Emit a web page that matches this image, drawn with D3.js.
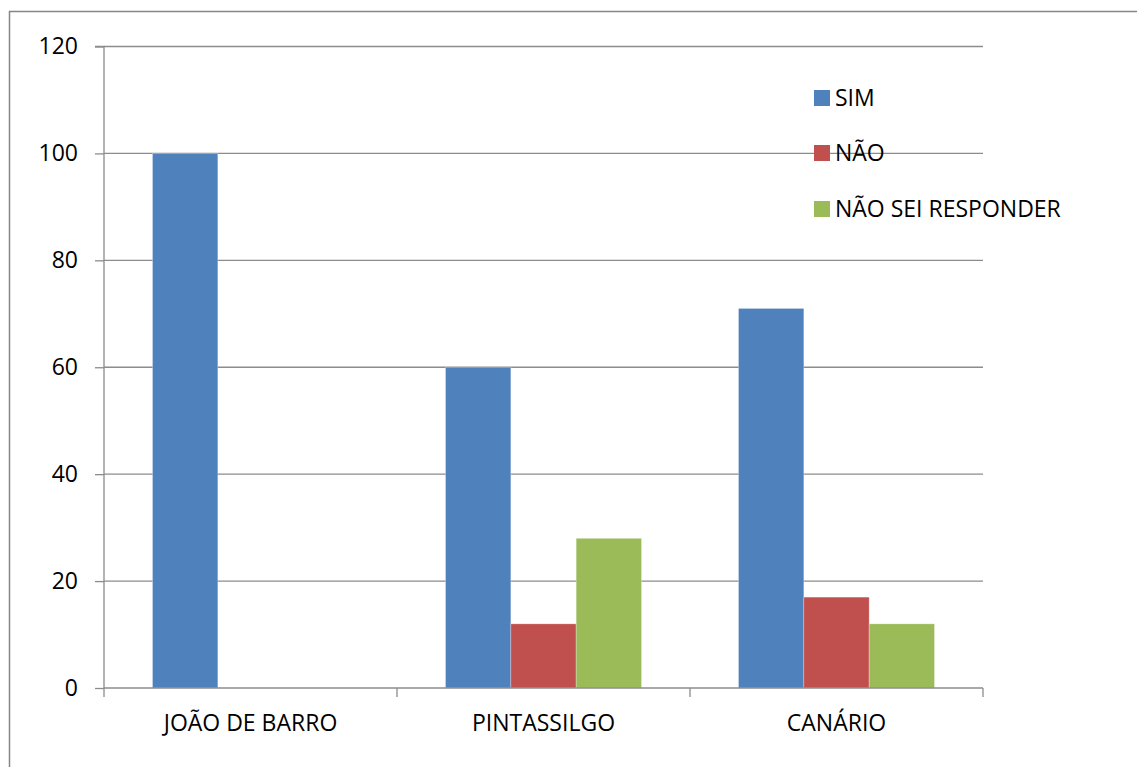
<!DOCTYPE html>
<html>
<head>
<meta charset="utf-8">
<script src="https://cdn.jsdelivr.net/npm/d3@7"></script>
<style>
  html, body { margin: 0; padding: 0; background: #fff; }
  svg { display: block; }
  text { font-family: "Open Sans", "Liberation Sans", sans-serif; fill: #000; }
</style>
</head>
<body>
<svg id="chart" width="1137" height="767"></svg>
<script>
// Survey answers per bird (percent)
const categories = ["JOÃO DE BARRO", "PINTASSILGO", "CANÁRIO"];
const seriesNames = ["SIM", "NÃO", "NÃO SEI RESPONDER"];
const simValues = [100, 60, 71];
const naoValues = [0, 12, 17];
const naoSeiValues = [0, 28, 12];
const yTicks = [0, 20, 40, 60, 80, 100, 120];
const colors = ["#4F81BD", "#C0504D", "#9BBB59"];

const seriesValues = [simValues, naoValues, naoSeiValues];
const FS = 23;

const svg = d3.select("#chart");
const W = 1137, H = 767;

// outer chart frame (runs past the right and bottom edges)
svg.append("rect")
  .attr("x", 9.5).attr("y", 11.5)
  .attr("width", W + 20).attr("height", H + 20)
  .attr("fill", "none").attr("stroke", "#868686").attr("stroke-width", 1.5);

const plot = { left: 104, right: 983, top: 46.5, bottom: 688 };

const x = d3.scaleBand().domain(categories).range([plot.left, plot.right]).padding(0);
const gap = x.bandwidth() * (48.5 / 293);
const xInner = d3.scaleBand().domain(seriesNames).range([gap, x.bandwidth() - gap]).padding(0);
const y = d3.scaleLinear().domain([0, 120]).range([plot.bottom, plot.top]);

// horizontal gridlines
svg.append("g")
  .selectAll("line")
  .data(yTicks.filter(t => t > 0))
  .join("line")
  .attr("x1", plot.left).attr("x2", plot.right)
  .attr("y1", d => y(d)).attr("y2", d => y(d))
  .attr("stroke", "#8c8c8c").attr("stroke-width", 1.3);

// bars
const rows = [];
categories.forEach((c, i) => {
  seriesNames.forEach((s, j) => rows.push({ c, s, j, v: seriesValues[j][i] }));
});
svg.append("g")
  .selectAll("rect")
  .data(rows.filter(d => d.v > 0))
  .join("rect")
  .attr("x", d => x(d.c) + xInner(d.s))
  .attr("y", d => y(d.v))
  .attr("width", xInner.bandwidth())
  .attr("height", d => y(0) - y(d.v))
  .attr("fill", d => colors[d.j])
  .attr("stroke", "rgba(255,255,255,0.35)")
  .attr("stroke-width", 0.8);

// y axis
const yAxis = d3.axisLeft(y).tickValues(yTicks).tickSize(9).tickPadding(17).tickFormat(d3.format("d"));
const gy = svg.append("g").attr("transform", `translate(${plot.left},0)`).call(yAxis);
gy.select(".domain").attr("stroke", "#8c8c8c").attr("stroke-width", 1.3).attr("d", `M-9,${plot.top}H0V${plot.bottom}`);
gy.selectAll(".tick line").attr("stroke", "#8c8c8c").attr("stroke-width", 1.3);
gy.selectAll(".tick text").attr("font-size", FS).attr("font-family", "'Open Sans', sans-serif").attr("fill", "#000");

// x axis
const xAxis = d3.axisBottom(x).tickSize(0).tickPadding(27);
const gx = svg.append("g").attr("transform", `translate(0,${plot.bottom})`).call(xAxis);
gx.select(".domain").attr("stroke", "#8c8c8c").attr("stroke-width", 1.3).attr("d", `M${plot.left},0H${plot.right}`);
gx.selectAll(".tick text").attr("font-size", FS).attr("font-family", "'Open Sans', sans-serif").attr("fill", "#000");

// category separators
svg.append("g")
  .selectAll("line")
  .data([plot.left, ...categories.map(c => x(c) + x.bandwidth())])
  .join("line")
  .attr("x1", d => d).attr("x2", d => d)
  .attr("y1", plot.bottom).attr("y2", plot.bottom + 9)
  .attr("stroke", "#8c8c8c").attr("stroke-width", 1.3);

// legend
const legend = svg.append("g").attr("transform", "translate(814,0)");
const legendY = [98, 153, 209];
seriesNames.forEach((s, j) => {
  legend.append("rect")
    .attr("x", 0).attr("y", legendY[j] - 8)
    .attr("width", 16).attr("height", 16)
    .attr("fill", colors[j]);
  legend.append("text")
    .attr("x", 21).attr("y", legendY[j])
    .attr("dy", "0.35em")
    .attr("font-size", FS)
    .text(s);
});
</script>
</body>
</html>
